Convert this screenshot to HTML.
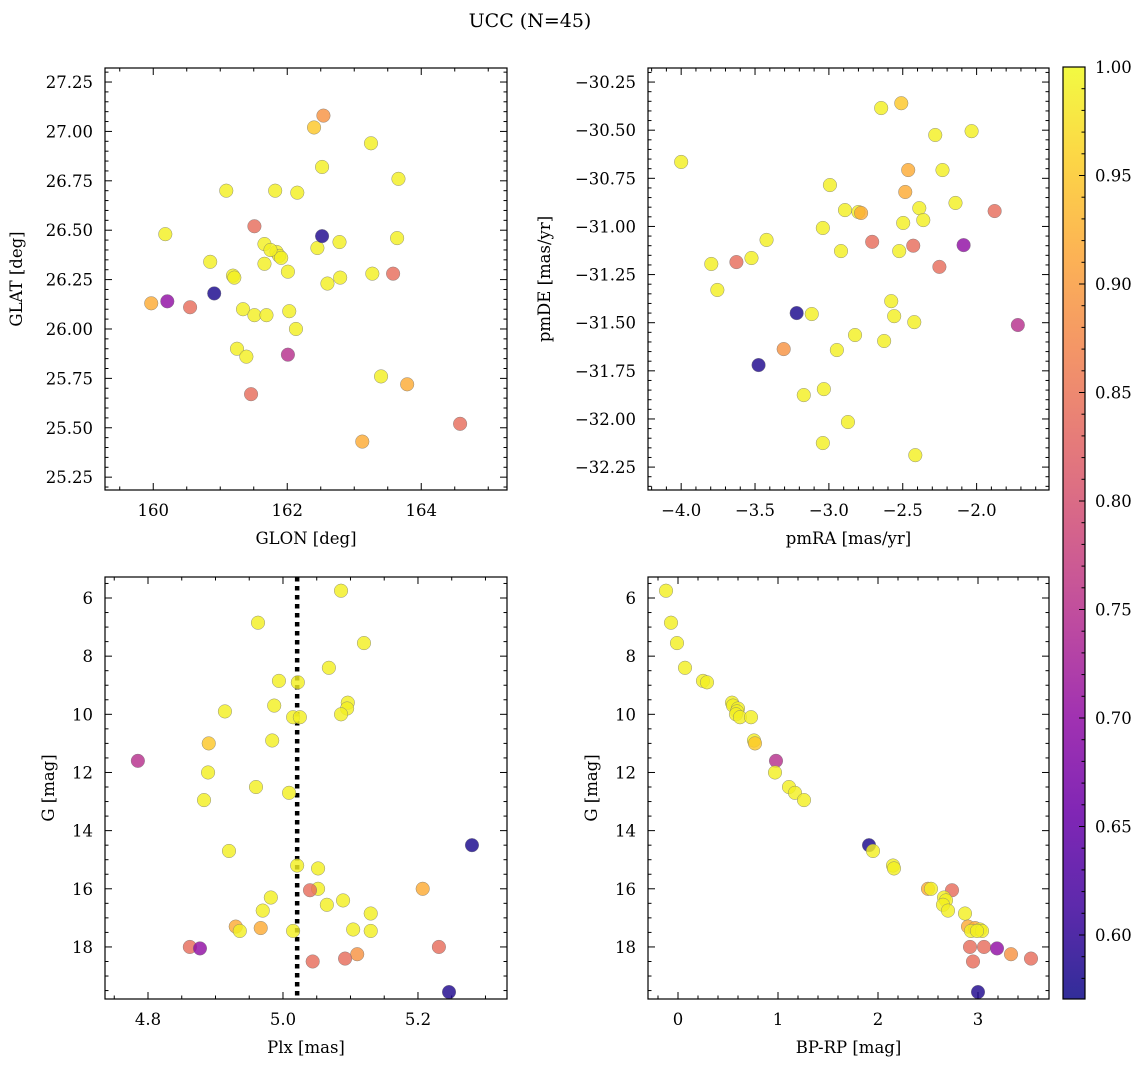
<!DOCTYPE html>
<html><head><meta charset="utf-8"><style>
html,body{margin:0;padding:0;background:#fff;}
svg text{font-family:"DejaVu Serif","Liberation Serif",serif;fill:#000;}
</style></head><body>
<svg id="fig" width="1148" height="1067" viewBox="0 0 1148 1067" xmlns="http://www.w3.org/2000/svg">
<text x="530" y="27" font-size="19" text-anchor="middle">UCC (N=45)</text>
</svg>
<script>
const glon=[163.25,162.52,161.09,161.82,162.15,163.66,160.18,163.64,161.66,162.78,162.45,161.84,161.88,161.91,162.40,162.01,160.85,161.66,162.01,161.19,160.91,161.21,163.27,162.79,159.97,162.60,161.51,161.34,161.51,161.69,162.03,162.13,163.79,163.12,161.25,161.39,163.40,161.75,163.58,160.55,160.21,162.54,161.46,164.58,162.52];
const glat=[26.94,26.82,26.70,26.70,26.69,26.76,26.48,26.46,26.43,26.44,26.41,26.39,26.37,26.36,27.02,25.87,26.34,26.33,26.29,26.27,26.18,26.26,26.28,26.26,26.13,26.23,26.52,26.10,26.07,26.07,26.09,26.00,25.72,25.43,25.90,25.86,25.76,26.40,26.28,26.11,26.14,27.08,25.67,25.52,26.47];
const pmra=[-4.0,-2.646,-2.28,-2.034,-2.231,-2.993,-2.388,-2.143,-2.891,-2.80,-2.361,-2.497,-3.041,-3.422,-2.51,-1.721,-2.918,-2.524,-3.524,-3.796,-3.218,-3.755,-2.578,-2.558,-2.463,-3.116,-1.878,-2.422,-2.823,-2.626,-2.946,-3.034,-2.782,-2.483,-3.17,-2.871,-3.041,-2.415,-2.707,-2.429,-2.088,-3.306,-3.626,-2.252,-3.476];
const pmde=[-30.665,-30.385,-30.525,-30.505,-30.707,-30.785,-30.905,-30.878,-30.915,-30.925,-30.967,-30.982,-31.008,-31.07,-30.36,-31.512,-31.128,-31.128,-31.164,-31.195,-31.45,-31.33,-31.388,-31.466,-30.707,-31.455,-30.92,-31.497,-31.564,-31.595,-31.642,-31.845,-30.93,-30.821,-31.876,-32.016,-32.125,-32.188,-31.08,-31.10,-31.097,-31.637,-31.185,-31.21,-31.72];
const plx=[5.086,4.963,5.12,5.068,4.994,5.022,5.096,4.987,5.095,4.914,5.086,5.015,5.025,4.984,4.89,4.785,4.889,4.96,5.009,4.883,5.28,4.92,5.021,5.052,5.207,5.052,5.04,4.982,5.089,5.065,4.97,5.13,4.93,4.967,5.104,4.936,5.015,5.13,4.862,5.231,4.877,5.11,5.092,5.044,5.246];
const gmag=[5.75,6.85,7.55,8.4,8.85,8.9,9.6,9.7,9.8,9.9,10.0,10.1,10.1,10.9,11.0,11.6,12.0,12.5,12.7,12.95,14.5,14.7,15.2,15.3,16.0,16.0,16.05,16.3,16.4,16.55,16.75,16.85,17.3,17.35,17.4,17.45,17.45,17.45,18.0,18.0,18.05,18.25,18.4,18.5,19.55];
const bprp=[-0.12,-0.07,-0.01,0.07,0.25,0.29,0.54,0.55,0.6,0.59,0.58,0.62,0.73,0.76,0.77,0.98,0.97,1.11,1.17,1.26,1.91,1.95,2.15,2.16,2.5,2.53,2.74,2.66,2.68,2.65,2.7,2.87,2.9,2.97,3.02,2.93,3.04,2.99,2.92,3.06,3.19,3.33,3.53,2.95,3.0];
const prob=[0.99,0.99,0.99,0.99,0.99,0.99,0.99,0.99,0.99,0.99,0.99,0.99,0.99,0.99,0.95,0.75,0.99,0.99,0.99,0.99,0.58,0.99,0.99,0.99,0.92,0.99,0.84,0.99,0.99,0.99,0.99,0.99,0.92,0.92,0.99,0.99,0.99,0.99,0.84,0.84,0.70,0.89,0.84,0.84,0.585];
const plxLine=5.021;
const cbTicks=[0.60,0.65,0.70,0.75,0.80,0.85,0.90,0.95,1.00];
const VMIN=0.5705,VMAX=1.0;

const NS="http://www.w3.org/2000/svg";
const svg=document.getElementById('fig');
function mk(tag,attrs,parent){const e=document.createElementNS(NS,tag);for(const k in attrs)e.setAttribute(k,attrs[k]);(parent||svg).appendChild(e);return e;}
const stops=[[13,8,135],[65,4,157],[106,0,168],[143,13,164],[177,42,144],[204,71,120],[225,100,98],[242,132,75],[252,166,54],[252,206,37],[240,249,33]];
function plasma(v){let t=(v-VMIN)/(VMAX-VMIN);t=Math.max(0,Math.min(1,t));const s=t*10,i=Math.min(9,Math.floor(s)),f=s-i;const a=stops[i],b=stops[i+1];return 'rgb('+a.map((c,k)=>Math.round(c+(b[k]-c)*f)).join(',')+')';}
function fmt(v,d){const s=Math.abs(v).toFixed(d);return (v<-1e-9?'\u2212':'')+s;}

function panel(o){
  const g=mk('g',{});
  
  
  const X=v=>o.x0+(v-o.xd[0])/(o.xd[1]-o.xd[0])*(o.x1-o.x0);
  const Y=v=>o.y0+(v-o.yd[0])/(o.yd[1]-o.yd[0])*(o.y1-o.y0);
  const lo=Math.min(o.xd[0],o.xd[1]),hi=Math.max(o.xd[0],o.xd[1]);
  const ylo=Math.min(o.yd[0],o.yd[1]),yhi=Math.max(o.yd[0],o.yd[1]);
  const tg=mk('g',{stroke:'#000','stroke-width':1},g);
  
  
  for(let v=Math.ceil(lo/o.xmin-1e-6)*o.xmin;v<=hi+1e-9;v+=o.xmin){
    const major=Math.abs(v/o.xmaj-Math.round(v/o.xmaj))<1e-6;const L=major?7:3.5;const px=X(v);
    mk('line',{x1:px,x2:px,y1:o.y1,y2:o.y1-L},tg);mk('line',{x1:px,x2:px,y1:o.y0,y2:o.y0+L},tg);
    if(major){const t=mk('text',{x:px,y:o.y1+26,'font-size':16.5,'text-anchor':'middle'},g);t.textContent=fmt(v,o.xdec);
      }
  }
  for(let v=Math.ceil(ylo/o.ymin-1e-6)*o.ymin;v<=yhi+1e-9;v+=o.ymin){
    const major=Math.abs(v/o.ymaj-Math.round(v/o.ymaj))<1e-6;const L=major?7:3.5;const py=Y(v);
    mk('line',{y1:py,y2:py,x1:o.x0,x2:o.x0+L},tg);mk('line',{y1:py,y2:py,x1:o.x1,x2:o.x1-L},tg);
    if(major){const t=mk('text',{x:o.x0-12,y:py+6,'font-size':16.5,'text-anchor':'end'},g);t.textContent=fmt(v,o.ydec);
      }
  }
  if(o.vline!==undefined){const l=mk('line',{x1:X(o.vline),x2:X(o.vline),y1:o.y0,y2:o.y1,stroke:'#000','stroke-width':4.5,'stroke-dasharray':'4.5,4.5'},g);
    }
  for(let i=0;i<o.xs.length;i++){
    const c=mk('circle',{cx:X(o.xs[i]),cy:Y(o.ys[i]),r:6.8,fill:plasma(prob[i]),'fill-opacity':0.82,stroke:'#777','stroke-width':0.5,'stroke-opacity':0.8},g);
    
    
  }
  const fr=mk('rect',{x:o.x0,y:o.y0,width:o.x1-o.x0,height:o.y1-o.y0,fill:'none',stroke:'#000','stroke-width':1.2},g);
  
  const xl=mk('text',{x:(o.x0+o.x1)/2,y:o.y1+54,'font-size':16.5,'text-anchor':'middle'},g);xl.textContent=o.xlabel;
  
  const yl=mk('text',{x:0,y:0,'font-size':16.5,'text-anchor':'middle',transform:'translate('+o.ylx+','+((o.y0+o.y1)/2)+') rotate(-90)'},g);yl.textContent=o.ylabel;
  
}
panel({name:'glon-glat-panel',x0:105,x1:507,y0:68,y1:490,xd:[159.28,165.28],yd:[27.321,25.185],xmaj:2,xmin:0.5,ymaj:0.25,ymin:0.05,xdec:0,ydec:2,xs:glon,ys:glat,xlabel:'GLON [deg]',ylabel:'GLAT [deg]',ylx:22});
panel({name:'pm-panel',x0:648,x1:1049,y0:68,y1:490,xd:[-4.2245,-1.51],yd:[-30.177,-32.369],xmaj:0.5,xmin:0.1,ymaj:0.25,ymin:0.05,xdec:1,ydec:2,xs:pmra,ys:pmde,xlabel:'pmRA [mas/yr]',ylabel:'pmDE [mas/yr]',ylx:550});
panel({name:'plx-g-panel',x0:105,x1:507,y0:577,y1:999,xd:[4.7363,5.3319],yd:[5.278,19.79],xmaj:0.2,xmin:0.05,ymaj:2,ymin:0.5,xdec:1,ydec:0,xs:plx,ys:gmag,xlabel:'Plx [mas]',ylabel:'G [mag]',ylx:54,vline:plxLine});
panel({name:'cmd-panel',x0:648,x1:1049,y0:577,y1:999,xd:[-0.30,3.71],yd:[5.278,19.79],xmaj:1,xmin:0.2,ymaj:2,ymin:0.5,xdec:0,ydec:0,xs:bprp,ys:gmag,xlabel:'BP-RP [mag]',ylabel:'G [mag]',ylx:597});

const cb=mk('g',{});


const defs=mk('defs',{},svg);
const lg=mk('linearGradient',{id:'cbg',x1:0,y1:1,x2:0,y2:0},defs);
for(let k=0;k<=20;k++){const v=VMIN+(VMAX-VMIN)*k/20;mk('stop',{offset:(k/20),'stop-color':plasma(v),'stop-opacity':0.85},lg);}
const cbx0=1063,cbx1=1085,cby0=67,cby1=999;
mk('rect',{x:cbx0,y:cby0,width:cbx1-cbx0,height:cby1-cby0,fill:'url(#cbg)'},cb);
const CY=v=>cby1-(v-VMIN)/(VMAX-VMIN)*(cby1-cby0);
for(let v=0.58;v<=1.0001;v+=0.01){const py=CY(v);mk('line',{x1:cbx1,x2:cbx1-3.5,y1:py,y2:py,stroke:'#000','stroke-width':1},cb);}
cbTicks.forEach(v=>{const py=CY(v);mk('line',{x1:cbx1,x2:cbx1-6,y1:py,y2:py,stroke:'#000','stroke-width':1},cb);
  const t=mk('text',{x:cbx1+10,y:py+6,'font-size':16.5},cb);t.textContent=v.toFixed(2);
  });
mk('rect',{x:cbx0,y:cby0,width:cbx1-cbx0,height:cby1-cby0,fill:'none',stroke:'#000','stroke-width':1.2},cb);
</script>
</body></html>
